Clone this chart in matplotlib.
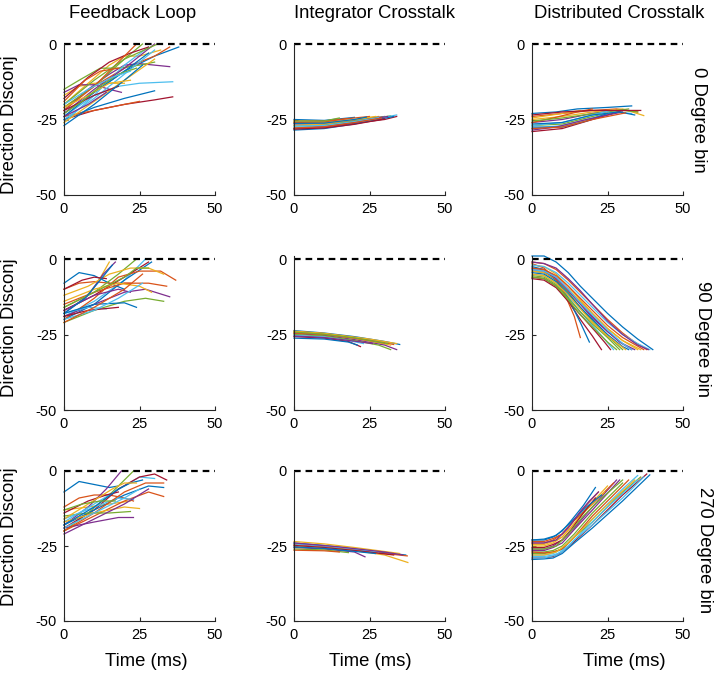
import matplotlib.pyplot as plt

plt.rcParams['font.family'] = ['Liberation Sans', 'DejaVu Sans']
plt.rcParams['axes.unicode_minus'] = False

# matlab default colour order
MATLAB_COLORS = ['#0072BD', '#D95319', '#EDB120', '#7E2F8E',
                 '#77AC30', '#4DBEEE', '#A2142F']

col_titles = ['Feedback Loop', 'Integrator Crosstalk', 'Distributed Crosstalk']
row_labels = ['0 Degree bin', '90 Degree bin', '270 Degree bin']
x_ticks = [0, 25, 50]
y_ticks = [-50, -25, 0]

# traces, each one a list of (time ms, disconj) points
fb_0 = [
    [(0, -23), (10, -16), (20, -9), (30, -4), (38, -1)],
    [(0, -21), (10, -14), (20, -8), (30, -4), (35, -1)],
    [(0, -20), (8, -13), (15, -7), (20, -4), (25, -4), (32, -2)],
    [(0, -22), (8, -15), (15, -10), (20, -7), (25, -6.5), (35, -7.5)],
    [(0, -15), (5, -12), (12, -8), (18, -8), (25, -7), (30, -6)],
    [(0, -24), (10, -17), (18, -14), (25, -13), (36, -12.5)],
    [(0, -25), (10, -22), (20, -20), (30, -18.5), (36, -17.5)],
    [(0, -25), (10, -21), (20, -18), (30, -15.5)],
    [(0, -24), (10, -22), (20, -20), (25, -19)],
    [(0, -17), (5, -14), (10, -13), (15, -13), (20, -13)],
    [(0, -16), (5, -13.5), (10, -13.5), (15, -15), (19, -16)],
    [(0, -21), (10, -14), (20, -5), (26, 0)],
    [(0, -26), (10, -17), (20, -7), (28, -1)],
    [(0, -18), (8, -11), (15, -6), (22, -3), (28, -1)],
    [(0, -24), (10, -16), (20, -9), (28, -3)],
    [(0, -22), (10, -14), (20, -4), (24, 0)],
    [(0, -26), (10, -19), (20, -12), (30, -5)],
    [(0, -23), (10, -15), (20, -8), (30, 0)],
    [(0, -20), (10, -12), (20, -5), (31, 0)],
    [(0, -25), (10, -18), (20, -10), (30, -2)],
    [(0, -22), (10, -17), (18, -14)],
    [(0, -27), (10, -20), (20, -12), (26, -7)],
    [(0, -19), (7, -12), (12, -9), (18, -8)],
    [(0, -21), (8, -17), (15, -13), (22, -12)],
    [(0, -24), (8, -20), (14, -16)],
    [(0, -23), (6, -19), (12, -14), (18, -10), (24, -8)],
    [(0, -20), (8, -15), (16, -11), (22, -9)],
]
ic_0 = [
    [(0, -25), (10, -25.3), (20, -24.3)],
    [(0, -25.5), (10, -25.5), (20, -24.5), (25, -24)],
    [(0, -26), (10, -26), (20, -25), (28, -24)],
    [(0, -26.5), (10, -26.5), (20, -25.3), (30, -24)],
    [(0, -27), (10, -26.8), (20, -25.5), (32, -23.8)],
    [(0, -27.5), (10, -27.2), (20, -26), (34, -23.5)],
    [(0, -28), (10, -27.5), (20, -26.3), (30, -25), (34, -24)],
    [(0, -28.5), (10, -28), (20, -26.5), (33, -24)],
    [(0, -26), (10, -25.8), (18, -24.7)],
    [(0, -27), (10, -26.5), (22, -24.8), (27, -24)],
    [(0, -28), (10, -27.5), (25, -25), (31, -24)],
    [(0, -25.5), (10, -25.5), (15, -24.5)],
    [(0, -27.2), (10, -27), (20, -25.7), (28, -24.4)],
    [(0, -28.2), (10, -27.8), (20, -26.6), (30, -24.8)],
    [(0, -26.3), (10, -26.2), (20, -25), (24, -24.2)],
    [(0, -27.8), (10, -27.4), (20, -26), (29, -24.5)],
]
dc_0 = [
    [(0, -23), (8, -22.5), (15, -21.5), (25, -21), (33, -20.5)],
    [(0, -24), (10, -23), (20, -22), (28, -21.5), (35, -22.5)],
    [(0, -25), (10, -24), (20, -22.5), (30, -21.5), (37, -23.7)],
    [(0, -26), (10, -25), (20, -23), (28, -22)],
    [(0, -27), (10, -26.5), (20, -24), (30, -22), (35, -22.5)],
    [(0, -28), (10, -27), (20, -24.5), (27, -22.5), (33, -23)],
    [(0, -29), (10, -28), (20, -25), (30, -22)],
    [(0, -27.5), (10, -27.5), (18, -25.5), (25, -23)],
    [(0, -26), (7, -24.5), (15, -22.5), (20, -21.5)],
    [(0, -24.5), (10, -23), (16, -22)],
    [(0, -28.5), (8, -27.5), (18, -25), (30, -22.5)],
    [(0, -25.5), (10, -24.5), (22, -22.8), (32, -21.5)],
    [(0, -27), (10, -26), (20, -23.5), (26, -22)],
    [(0, -23.5), (10, -22.5), (20, -22), (30, -22), (36, -22)],
    [(0, -26.5), (10, -26), (20, -23.5), (29, -22.5), (34, -23.5)],
    [(0, -28), (10, -27.5), (20, -25), (31, -22.8)],
]
fb_90 = [
    [(0, -8), (5, -4.5), (10, -5.5), (15, -8), (20, -10)],
    [(0, -10), (5, -8), (10, -7.5), (15, -8), (22, -8)],
    [(0, -17), (6, -14), (11, -8), (15, -1)],
    [(0, -18), (8, -12), (13, -5), (17, -1)],
    [(0, -16), (10, -11), (18, -5), (24, 0)],
    [(0, -19), (10, -14), (20, -7), (27, 0)],
    [(0, -17), (10, -12), (20, -6), (28, -1)],
    [(0, -20), (10, -15), (20, -7), (29, -1)],
    [(0, -20), (10, -13), (18, -6), (25, -4), (32, -4), (37, -7)],
    [(0, -12), (8, -9), (15, -5), (22, -3), (28, -3), (33, -5)],
    [(0, -19), (10, -15), (20, -11), (27, -10), (35, -12.5)],
    [(0, -21), (10, -17), (20, -14), (27, -13), (33, -14)],
    [(0, -18), (8, -16), (14, -16.5)],
    [(0, -19), (8, -17), (18, -16)],
    [(0, -18), (10, -15), (20, -14.5), (24, -16)],
    [(0, -15), (10, -11), (20, -8), (28, -8), (34, -9)],
    [(0, -14), (10, -10), (18, -8), (25, -9), (29, -11)],
    [(0, -17), (10, -12), (18, -10), (22, -11)],
    [(0, -16), (10, -11), (20, -6), (24, -3), (28, -3)],
    [(0, -20), (10, -17), (18, -13), (26, -8)],
    [(0, -10), (6, -7), (10, -6), (14, -6.5)],
    [(0, -18), (7, -13), (12, -7), (16, -2)],
    [(0, -21), (10, -16), (20, -10), (26, -5)],
]
ic_90 = [
    [(0, -23.7), (10, -24.5), (20, -25.7), (30, -27.3), (35, -28.3)],
    [(0, -24), (10, -24.7), (20, -26), (33, -28.3)],
    [(0, -24.3), (10, -25), (20, -26.3), (32, -28.5)],
    [(0, -24.7), (10, -25.3), (20, -26.7), (30, -28.5), (34, -30)],
    [(0, -25), (10, -25.5), (20, -27), (28, -28.5), (32, -30)],
    [(0, -25.3), (10, -25.8), (18, -27), (23, -28)],
    [(0, -25.7), (10, -26.2), (18, -27.3), (22, -29)],
    [(0, -26.2), (10, -26.5), (18, -27.5), (21, -28.5)],
    [(0, -24.5), (10, -25), (20, -26.2), (30, -27.8)],
    [(0, -23.9), (10, -24.6), (25, -26.5), (34, -28)],
    [(0, -25.5), (10, -26), (20, -27.2), (26, -28)],
    [(0, -24.2), (10, -24.9), (20, -26.1), (31, -28)],
]
dc_90 = [
    [(0, 1), (4, 1), (8, -1), (12, -4.5), (16, -9), (20, -13), (25, -18), (30, -22.5), (35, -26.5), (40, -30)],
    [(0, -1), (4, -1.5), (8, -3.5), (12, -7), (16, -11), (20, -15), (25, -20), (30, -24.5), (34, -27.5), (38, -30)],
    [(0, -2), (4, -2.5), (8, -5), (12, -9), (16, -13.5), (20, -18), (25, -23), (30, -27), (35, -30)],
    [(0, -3), (4, -3.5), (8, -6), (12, -10), (16, -14.5), (20, -19), (25, -24), (29, -27.5), (33, -30)],
    [(0, -4), (4, -4.5), (8, -7), (12, -11), (16, -16), (20, -20.5), (25, -25.5), (30, -30)],
    [(0, -5), (4, -5.5), (8, -8), (12, -12.5), (16, -17.5), (20, -22), (24, -26.5), (27, -30)],
    [(0, -6), (4, -6.5), (8, -9), (12, -14), (16, -20), (20, -25.5), (23, -30)],
    [(0, -2.5), (4, -3.5), (8, -7), (12, -13), (16, -21), (19, -27.5)],
    [(0, -1.5), (4, -3), (8, -7), (11, -12), (14, -19), (16, -26)],
    [(0, -4), (4, -4.5), (8, -6.5), (12, -10), (16, -14), (20, -18), (25, -23), (30, -27), (36, -30)],
    [(0, -3.5), (4, -4), (8, -6.5), (12, -10.5), (16, -15), (20, -19.5), (25, -24), (30, -28), (34, -30)],
    [(0, -5.5), (4, -6), (8, -8.5), (12, -13), (16, -17.5), (20, -21.5), (25, -26), (29, -30)],
    [(0, -2), (4, -2.5), (8, -4.5), (12, -8), (16, -12), (20, -16), (25, -21), (30, -25), (35, -28), (39, -30)],
    [(0, -6.5), (4, -7), (8, -9.5), (12, -14), (17, -19.5), (21, -24), (24, -27.5), (26, -30)],
    [(0, -4.5), (4, -5), (8, -7.5), (12, -11.5), (16, -16), (20, -20), (25, -25), (30, -29), (32, -30)],
    [(0, -3), (4, -3.5), (8, -5.5), (12, -9), (16, -13), (20, -17), (25, -22), (30, -26), (37, -30)],
    [(0, -5), (4, -5.5), (8, -8), (12, -12), (16, -16.5), (20, -21), (25, -25.5), (31, -30)],
    [(0, -1), (4, -1.5), (8, -3), (12, -6.5), (16, -10.5), (20, -15), (25, -20.5), (30, -25), (35, -28.5), (38.5, -30)],
    [(0, -6), (4, -6.5), (8, -9), (12, -13.5), (16, -18.5), (20, -22.5), (25, -27.5), (28, -30)],
    [(0, -3.5), (4, -4), (8, -6), (12, -10), (16, -14.5), (20, -18.5), (25, -23.5), (30, -28), (33, -30)],
]
fb_270 = [
    [(0, -7), (5, -3.5), (10, -4.5), (15, -5.5), (18, -5)],
    [(0, -12), (5, -9), (10, -8), (15, -8), (20, -9), (23, -10)],
    [(0, -13), (8, -12), (15, -11), (22, -10)],
    [(0, -18), (8, -12), (14, -6), (19, 0)],
    [(0, -20), (8, -14), (16, -7), (23, 0)],
    [(0, -17), (10, -11), (20, -5), (25, -2), (30, -2.5)],
    [(0, -19), (10, -13), (18, -6), (25, -2), (30, -1), (34, -3)],
    [(0, -18), (10, -13), (20, -8), (28, -5), (33, -5.5)],
    [(0, -20), (10, -15), (20, -10), (28, -7), (33, -8.5)],
    [(0, -17), (10, -14), (20, -12), (25, -12.5)],
    [(0, -19), (10, -17), (18, -15.5), (23, -15.5)],
    [(0, -15), (8, -14), (15, -14), (22, -13.5)],
    [(0, -16), (10, -12), (18, -9), (23, -9.5)],
    [(0, -14), (8, -10), (14, -8), (18, -7)],
    [(0, -18), (10, -12), (18, -6), (22, -4), (26, -3)],
    [(0, -20), (10, -14), (20, -7), (27, -4), (33, -4)],
    [(0, -16), (8, -11), (16, -6), (20, -4), (24, -4)],
    [(0, -21), (10, -16), (20, -11), (28, -6)],
    [(0, -13), (6, -11), (12, -10), (17, -10)],
    [(0, -19), (10, -14), (20, -9), (25, -6)],
]
ic_270 = [
    [(0, -24), (10, -24.8), (20, -26), (30, -27.2), (37, -28)],
    [(0, -24.5), (10, -25.2), (20, -26.3), (30, -27.5), (37.5, -28.3)],
    [(0, -25), (10, -25.5), (20, -26.5), (30, -28), (37.7, -30.5)],
    [(0, -25.5), (10, -26), (20, -27), (23.5, -28.6)],
    [(0, -26), (10, -26.3), (18, -27.2)],
    [(0, -24.3), (10, -25), (20, -26), (28, -27)],
    [(0, -24.8), (10, -25.5), (22, -26.7), (33, -28)],
    [(0, -25.3), (10, -25.8), (20, -26.8), (27, -27.5)],
    [(0, -26.4), (10, -26.6), (15, -27)],
    [(0, -23.5), (10, -24.3), (20, -25.5), (35, -27.5)],
    [(0, -24), (15, -25.3), (30, -27), (36, -28)],
]
dc_270 = [
    [(0, -23), (4, -23), (7, -22), (10, -20), (13, -16.5), (17, -11.5), (21, -5.5)],
    [(0, -24), (4, -24), (7, -23), (10, -21), (13, -17.5), (17, -12.5), (22, -7)],
    [(0, -25), (4, -25), (7, -24), (10, -22), (14, -17.5), (18, -12.5), (25, -5)],
    [(0, -26), (4, -26), (7, -25), (10, -23), (14, -19), (20, -12), (28, -3)],
    [(0, -27), (4, -27), (7, -26.5), (10, -25), (14, -21), (20, -14), (30, -4)],
    [(0, -28), (4, -28), (7, -27.5), (10, -26), (14, -22), (20, -16), (30, -6), (35, -1.5)],
    [(0, -29), (4, -29), (7, -28.5), (10, -27), (14, -23.5), (20, -18), (30, -8), (38, -1)],
    [(0, -29.5), (4, -29.3), (7, -29), (10, -27.5), (14, -24), (20, -19), (30, -10), (39, -1.3)],
    [(0, -23.5), (4, -23.5), (7, -22.5), (10, -21), (14, -16.5), (20, -11), (27, -4)],
    [(0, -24.5), (4, -24.5), (7, -23.5), (10, -22), (14, -17.5), (18, -13), (24, -7)],
    [(0, -26.5), (4, -26.5), (7, -25.5), (10, -24), (14, -19.5), (20, -13), (29, -3)],
    [(0, -27.5), (4, -27.5), (7, -27), (10, -26), (14, -22), (20, -17), (30, -7), (36, -2)],
    [(0, -28.5), (4, -28.5), (7, -28), (10, -27), (14, -23), (20, -18), (30, -9), (37, -2)],
    [(0, -25.5), (4, -25.5), (7, -24.5), (10, -23), (13, -19.5), (17, -14), (21, -9)],
    [(0, -23), (4, -22.7), (8, -21.5), (12, -18), (18, -12), (23, -8)],
    [(0, -27), (4, -27.3), (7, -27), (10, -26), (14, -22), (20, -15), (32, -3)],
    [(0, -28), (4, -28), (8, -27), (12, -24), (17, -19), (22, -14), (34, -3)],
    [(0, -24), (4, -24), (8, -23), (12, -19), (16, -13.5), (19, -10), (22, -7)],
    [(0, -26), (4, -26), (8, -25), (12, -21), (17, -15), (22, -10), (30, -3)],
    [(0, -29), (4, -29), (8, -28), (12, -25), (18, -19), (25, -12), (35, -3)],
]

panels = [[fb_0, ic_0, dc_0],
          [fb_90, ic_90, dc_90],
          [fb_270, ic_270, dc_270]]

W, H = 715, 676
fig = plt.figure(figsize=(W / 100, H / 100), dpi=100)

def fx(x):
    return x / W

def fy(y):
    return 1 - y / H

# axes boxes in pixels
col_left = [64, 294, 532]
ax_w = 151
row_box = [(44, 195, 0), (256, 410, 1), (471, 621, 0)]  # top, bottom, ylim top

grey = '#262626'
for r in range(3):
    top, bot, ytop = row_box[r]
    for c in range(3):
        ax = fig.add_axes([fx(col_left[c]), fy(bot), fx(ax_w), (bot - top) / H])
        ax.set_prop_cycle(color=MATLAB_COLORS)
        for trace in panels[r][c]:
            t = [p[0] for p in trace]
            v = [p[1] for p in trace]
            ax.plot(t, v, lw=0.9, clip_on=False)
        ax.plot([0, 50], [0, 0], color='black', lw=1.6, dashes=(3, 2.2),
                clip_on=False)
        ax.set_xlim(0, 50)
        ax.set_ylim(-50, ytop)
        ax.set_xticks(x_ticks)
        ax.set_yticks(y_ticks)
        ax.tick_params(direction='in', length=3, width=0.8, colors=grey,
                       labelsize=10.5, pad=5)
        ax.tick_params(labelcolor='black')
        for s in ['top', 'right']:
            ax.spines[s].set_visible(False)
        for s in ['left', 'bottom']:
            ax.spines[s].set_color(grey)
            ax.spines[s].set_linewidth(0.8)

# column titles
for x, txt in zip([133, 374, 619], col_titles):
    fig.text(fx(x), fy(13), txt, ha='center', va='center', fontsize=13.3)

# row labels on the left and right
for y in [125, 328, 537]:
    fig.text(fx(10), fy(y), 'Direction Disconj', rotation=90,
             ha='center', va='center', fontsize=13.3)
for (x, y), txt in zip([(698, 120), (703, 339), (705, 550)], row_labels):
    fig.text(fx(x), fy(y), txt, rotation=-90, ha='center', va='center',
             fontsize=13.3)

# x labels under the bottom row
for x in [146, 370, 624]:
    fig.text(fx(x), fy(661), 'Time (ms)', ha='center', va='center', fontsize=13.3)

fig.savefig('out.png', dpi=100)
